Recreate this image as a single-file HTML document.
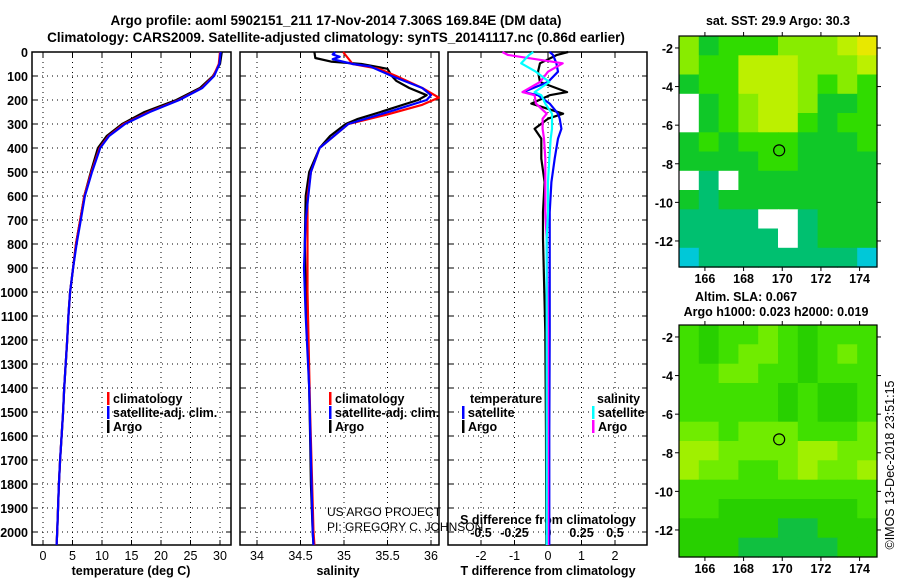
<!DOCTYPE html>
<html><head><meta charset="utf-8">
<style>
html,body{margin:0;padding:0;background:#fff;}
svg{display:block;font-family:"Liberation Sans",Arial,sans-serif;}
.b{font-weight:bold;}
</style></head>
<body>
<svg id="c" width="900" height="580" viewBox="0 0 900 580" xmlns="http://www.w3.org/2000/svg">
<text x="336" y="25" text-anchor="middle" font-size="13.5" class="b">Argo profile: aoml 5902151_211 17-Nov-2014 7.306S 169.84E (DM data)</text>
<text x="336" y="42" text-anchor="middle" font-size="13.5" class="b">Climatology: CARS2009. Satellite-adjusted climatology: synTS_20141117.nc (0.86d earlier)</text>
<g id="g"></g>
</svg>
<script>
// ---- data ----
const depthTicks=[0,100,200,300,400,500,600,700,800,900,1000,1100,1200,1300,1400,1500,1600,1700,1800,1900,2000];
const tempTicks=[0,5,10,15,20,25,30];
const salTicks=[34,34.5,35,35.5,36];
const salTickLabels=["34","34.5","35","35.5","36"];
const tdTicks=[-2,-1,0,1,2];
const sdTicks=[-0.5,-0.25,0,0.25,0.5];
const sdTickLabels=["-0.5","-0.25","0","0.25","0.5"];

const tDepth=[0,50,100,150,200,250,300,350,400,500,600,700,800,900,1000,1100,1200,1400,1500,1700,1800,2000,2054];
const tArgo=[30.3,30.0,28.8,26.6,22.6,17.2,13.4,10.8,9.3,8.1,7.0,6.3,5.6,5.1,4.6,4.3,4.1,3.6,3.4,2.9,2.7,2.4,2.3];
const tClim=[30.0,29.8,28.9,26.9,23.0,17.9,13.7,11.1,9.6,8.2,7.0,6.3,5.6,5.1,4.6,4.3,4.1,3.6,3.4,2.9,2.7,2.4,2.3];
const tSat=[30.1,29.9,29.0,27.0,23.1,18.1,13.9,11.2,9.7,8.3,7.1,6.4,5.7,5.1,4.6,4.3,4.1,3.6,3.4,2.9,2.7,2.4,2.3];

const sArgoDepth=[0,25,40,50,70,100,120,150,180,200,250,280,300,350,400,500,600,800,1000,1200,1400,1600,1800,2000,2054];
const sArgo=[34.66,34.67,34.85,35.2,35.5,35.55,35.6,35.75,35.95,35.85,35.42,35.15,35.02,34.84,34.72,34.6,34.56,34.55,34.56,34.58,34.6,34.61,34.62,34.64,34.65];
const sClimDepth=[0,50,70,100,150,190,220,260,300,400,500,600,1000,1500,2000,2054];
const sClim=[34.99,35.1,35.4,35.6,35.9,36.09,35.9,35.5,35.05,34.72,34.62,34.58,34.58,34.61,34.65,34.66];
const sSatDepth=[0,10,20,30,50,60,100,150,180,200,240,300,400,500,700,900,1100,1400,2000,2054];
const sSat=[34.9,34.87,34.95,34.87,35.1,35.3,35.55,35.9,36.0,35.95,35.6,35.05,34.72,34.62,34.56,34.54,34.56,34.6,34.64,34.65];

const dDepth=[0,12,47,82,125,167,180,215,257,278,320,361,444,542,667,778,1167,1600,2054];
const dTArgo=[0.6,0.27,-0.24,-0.3,-0.24,0.57,0.05,-0.5,0.45,0,-0.4,-0.2,-0.2,-0.1,-0.15,-0.15,-0.08,-0.06,-0.05];
const dTSat=[0.05,0.15,0.25,0.3,0.0,-0.74,-0.3,0.05,0.3,0.35,0.4,0.3,0.2,0.1,0.05,0.05,0.05,0.04,0.04];
const dSArgo=[-0.34,-0.3,0.11,0.0,-0.06,-0.19,-0.1,-0.09,-0.01,-0.04,-0.04,-0.03,-0.02,-0.02,-0.02,-0.01,0.0,0.0,0.0];
const dSSat=[-0.11,-0.14,-0.2,-0.09,0.01,-0.1,-0.05,-0.02,0.03,0.03,0.03,0.02,0.01,0.0,0.0,-0.01,-0.01,-0.01,-0.01];

const lonTicks=[166,168,170,172,174];
const latTicks=[-2,-4,-6,-8,-10,-12];
const sstPalette=["#ffffff","#00c8d8","#00c070","#10c828","#30dc00","#88ec00","#bcf000","#e8e800"];
const sstGrid=[
[5,3,4,4,4,5,5,5,6,7],
[5,4,4,6,6,6,5,5,5,6],
[3,4,4,6,6,6,5,4,5,4],
[0,3,4,5,6,6,5,3,3,4],
[0,3,4,5,6,6,4,3,4,4],
[3,4,3,4,4,4,3,3,3,4],
[3,3,3,3,4,4,3,3,3,3],
[0,2,0,3,3,3,3,3,3,3],
[3,2,3,3,3,3,3,3,3,3],
[2,2,2,2,0,0,2,3,3,3],
[2,2,2,2,2,0,2,3,3,3],
[1,2,2,2,2,2,2,2,2,1]];
const slaPalette=["#ffffff","#00b060","#10c040","#28d000","#40e000","#70ec00","#a0f000"];
const slaGrid=[
[4,3,4,4,5,4,3,4,4,4],
[4,3,4,5,5,4,3,4,5,4],
[4,4,5,5,4,4,3,4,4,4],
[4,4,4,4,4,3,4,3,3,4],
[4,4,4,4,4,3,4,3,3,4],
[5,5,4,5,5,5,4,4,4,5],
[6,6,5,5,5,5,6,6,5,5],
[6,5,5,4,4,5,6,5,5,6],
[4,4,4,4,4,4,4,4,4,4],
[4,4,3,3,3,3,3,3,3,4],
[3,3,3,3,3,2,2,3,3,3],
[3,3,3,2,2,2,2,2,3,3]];
const floatLon=169.84, floatLat=-7.306;

// ---- drawing ----
const NS="http://www.w3.org/2000/svg";
const G=document.getElementById('g');
function el(tg,a,p){const e=document.createElementNS(NS,tg);for(const k in a)e.setAttribute(k,a[k]);(p||G).appendChild(e);return e;}
function txt(x,y,s,size,anchor,bold,p){const e=el('text',{x:x,y:y,'font-size':size,'text-anchor':anchor||'middle'},p);if(bold)e.setAttribute('font-weight','bold');e.textContent=s;return e;}

const yTop=52, yBot=545;
const yD=d=>yTop+d*0.24;
const panels=[{x0:32,x1:231},{x0:240,x1:439},{x0:448,x1:647}];
const xT=v=>43+v*5.9;
const xS=v=>257+(v-34)*87;
const xTd=v=>548+v*33.5;
const xSd=v=>548+v*134;

function frame(p,name,vx){
  const g=el('g',{});
  
  
  depthTicks.forEach(d=>{el('line',{x1:p.x0,x2:p.x1,y1:yD(d),y2:yD(d),stroke:'#000','stroke-width':1,'stroke-dasharray':'1,4'},g);
    el('line',{x1:p.x0,x2:p.x0+5,y1:yD(d),y2:yD(d),stroke:'#000'},g);el('line',{x1:p.x1-5,x2:p.x1,y1:yD(d),y2:yD(d),stroke:'#000'},g);});
  vx.forEach(x=>{el('line',{x1:x,x2:x,y1:yTop,y2:yBot,stroke:'#000','stroke-dasharray':'1,4'},g);
    el('line',{x1:x,x2:x,y1:yBot-5,y2:yBot,stroke:'#000'},g);el('line',{x1:x,x2:x,y1:yTop,y2:yTop+5,stroke:'#000'},g);});
  el('rect',{x:p.x0,y:yTop,width:p.x1-p.x0,height:yBot-yTop,fill:'none',stroke:'#000','stroke-width':1.5},g);
  return g;
}
frame(panels[0],'temperature-panel',tempTicks.map(xT));
frame(panels[1],'salinity-panel',salTicks.map(xS));
frame(panels[2],'difference-panel',tdTicks.map(xTd));

depthTicks.forEach(d=>{const e=txt(28,yD(d)+5,String(d),12.5,'end',true);
  
  });
tempTicks.forEach(v=>{const e=txt(xT(v),560,String(v),12.5,'middle',false);
  
  });
salTicks.forEach((v,i)=>{const e=txt(xS(v),560,salTickLabels[i],12.5,'middle',false);
  
  });
tdTicks.forEach(v=>{const e=txt(xTd(v),560,String(v),12.5,'middle',false);
  
  });
sdTicks.forEach((v,i)=>{const e=txt(xSd(v),537,sdTickLabels[i],12.5,'middle',true);
  
  });
let lb;
lb=txt(131,575,'temperature (deg C)',12.5,'middle',true);
lb=txt(338,575,'salinity',12.5,'middle',true);
lb=txt(548,575,'T difference from climatology',12.5,'middle',true);
lb=txt(548,524,'S difference from climatology',12.5,'middle',true);
lb=txt(327,516,'US ARGO PROJECT',12,'start',false);
lb=txt(327,531,'PI: GREGORY C. JOHNSON',12,'start',false);

function line(xs,ds,fx,color,name){
  const pts=xs.map((v,i)=>fx(v).toFixed(1)+','+yD(ds[i]).toFixed(1)).join(' ');
  const e=el('polyline',{points:pts,fill:'none',stroke:color,'stroke-width':2.2,'stroke-linejoin':'round'});
  
  
}
line(tArgo,tDepth,xT,'#000','temperature-argo-line');
line(tClim,tDepth,xT,'#f00','temperature-climatology-line');
line(tSat,tDepth,xT,'#00f','temperature-satellite-line');
line(sArgo,sArgoDepth,xS,'#000','salinity-argo-line');
line(sClim,sClimDepth,xS,'#f00','salinity-climatology-line');
line(sSat,sSatDepth,xS,'#00f','salinity-satellite-line');
line(dTArgo,dDepth,xTd,'#000','t-diff-argo-line');
line(dTSat,dDepth,xTd,'#00f','t-diff-satellite-line');
line(dSArgo,dDepth,xSd,'#f0f','s-diff-argo-line');
line(dSSat,dDepth,xSd,'#0ff','s-diff-satellite-line');

function leg(x,y,color,label,name){
  const g=el('g',{});
  
  
  el('rect',{x:x,y:y-11,width:2.5,height:13,fill:color},g);
  txt(x+6,y,label,12.5,'start',true,g);
}
leg(107,403,'#f00','climatology','legend-temp-climatology');
leg(107,417,'#00f','satellite-adj. clim.','legend-temp-satellite');
leg(107,431,'#000','Argo','legend-temp-argo');
leg(329,403,'#f00','climatology','legend-sal-climatology');
leg(329,417,'#00f','satellite-adj. clim.','legend-sal-satellite');
leg(329,431,'#000','Argo','legend-sal-argo');
lb=txt(470,403,'temperature',12.5,'start',true);
leg(462,417,'#00f','satellite','legend-tdiff-satellite');
leg(462,431,'#000','Argo','legend-tdiff-argo');
lb=txt(597,403,'salinity',12.5,'start',true);
leg(592,417,'#0ff','satellite','legend-sdiff-satellite');
leg(592,431,'#f0f','Argo','legend-sdiff-argo');

// maps
function map(y0,y1,grid,pal,name){
  const x0=679,x1=877;
  const lonMin=164.66,lonMax=174.9,latTop=-1.38;
  const pxLon=(x1-x0)/(lonMax-lonMin);
  const pxLat=19.3;
  const xL=l=>x0+(l-lonMin)*pxLon;
  const yL=l=>y0+(latTop-l)*pxLat;
  const g=el('g',{});
  
  
  const rows=grid.length,cols=grid[0].length;
  const cw=(x1-x0)/cols,ch=(y1-y0)/rows;
  grid.forEach((r,i)=>r.forEach((v,j)=>{
    const c=el('rect',{x:(x0+j*cw).toFixed(1),y:(y0+i*ch).toFixed(1),width:(cw+0.6).toFixed(1),height:(ch+0.6).toFixed(1),fill:pal[v]},g);
    
    
  }));
  el('rect',{x:x0,y:y0,width:x1-x0,height:y1-y0,fill:'none',stroke:'#000','stroke-width':1.2},g);
  lonTicks.forEach(l=>{el('line',{x1:xL(l),x2:xL(l),y1:y0,y2:y0-4,stroke:'#000'},g);el('line',{x1:xL(l),x2:xL(l),y1:y1,y2:y1+4,stroke:'#000'},g);
    txt(xL(l),y1+16,String(l),12.5,'middle',true,g);});
  latTicks.forEach(l=>{el('line',{x1:x0,x2:x0-4,y1:yL(l),y2:yL(l),stroke:'#000'},g);el('line',{x1:x1,x2:x1+4,y1:yL(l),y2:yL(l),stroke:'#000'},g);
    txt(x0-6,yL(l)+5,String(l),12.5,'end',true,g);});
  const m=el('circle',{cx:xL(floatLon),cy:yL(floatLat),r:5.5,fill:'none',stroke:'#000','stroke-width':1.2},g);
  
  
}
map(36,267,sstGrid,sstPalette,'sst-map');
map(325,557,slaGrid,slaPalette,'sla-map');
lb=txt(778,25,'sat. SST: 29.9 Argo: 30.3',12.5,'middle',true);
lb=txt(746,301,'Altim. SLA: 0.067',12.5,'middle',true);
lb=txt(776,316,'Argo h1000: 0.023 h2000: 0.019',12.5,'middle',true);
lb=txt(0,0,'©IMOS 13-Dec-2018 23:51:15',12.5,'middle',false);
lb.setAttribute('transform','translate(894,465) rotate(-90)');


</script>
</body></html>
